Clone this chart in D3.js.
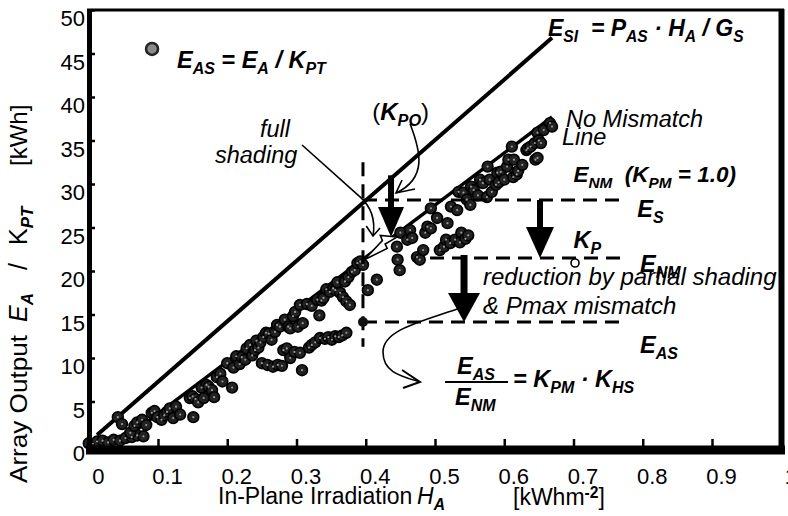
<!DOCTYPE html>
<html><head><meta charset="utf-8">
<script src="https://cdn.jsdelivr.net/npm/d3@7"></script>
<style>
html,body{margin:0;padding:0;background:#fff;}
svg{display:block;font-family:"Liberation Sans",Arial,Helvetica,sans-serif;}
text{white-space:pre;fill:#000;}
</style></head>
<body>
<svg id="chart" width="788" height="516"></svg>
<script>
// ---------- data ----------
const xTickValues = [0,0.1,0.2,0.3,0.4,0.5,0.6,0.7,0.8,0.9,1];
const xTickLabels = ["0","0.1","0.2","0.3","0.4","0.5","0.6","0.7","0.8","0.9","1"];
const yTickValues = [0,5,10,15,20,25,30,35,40,45,50];

// no-mismatch band (H_A, E_AS)
const mainH = [0.000,0.006,0.012,0.020,0.028,0.036,0.045,0.053,0.062,0.070,0.079,0.042,0.048,0.060,0.066,0.070,0.077,0.083,
 0.091,0.095,0.099,0.105,0.109,0.113,0.117,0.122,0.126,0.132,0.146,0.150,0.154,0.158,0.163,0.166,0.170,0.173,0.178,0.181,0.185,0.190,0.193,
 0.200,0.209,0.213,0.218,0.221,0.226,0.228,0.233,0.236,0.240,0.242,0.245,0.248,0.252,0.256,0.260,0.264,0.269,0.272,0.276,0.283,0.288,0.291,
 0.295,0.298,0.302,0.305,0.309,0.315,0.322,0.330,0.333,0.336,0.339,0.343,0.348,0.353,0.356,0.359,0.363,0.367,0.370,0.372,0.375,0.377,0.380,
 0.384,0.388,0.392,0.396,0.403,0.416,
 0.445,0.450,0.460,0.464,0.467,0.486,0.489,0.494,0.494,0.503,0.518,0.523,0.532,0.534,0.541,0.546,0.551,0.552,0.556,0.562,0.565,0.569,0.575,
 0.576,0.579,0.582,0.588,0.590,0.592,0.595,0.600,0.604,0.606,0.611,0.613,0.614,0.618,0.620,0.626,0.632,0.634,0.638,0.644,0.645,0.648,0.648,
 0.650,0.653,0.657,0.666,0.669];
const mainE = [0.2,0.1,0.4,0.5,0.3,0.6,0.5,0.8,0.9,1.1,1.0,3.2,2.4,1.4,2.2,2.6,2.9,2.3,
 3.7,3.9,3.2,2.9,3.4,3.8,4.2,3.1,4.4,3.5,5.4,5.6,5.3,4.9,6.6,5.4,6.9,6.7,6.3,5.5,7.8,8.2,7.3,
 9.4,8.9,10.2,9.3,10.1,9.8,11.1,11.5,10.3,10.9,12.0,11.2,11.8,12.4,12.9,12.8,12.1,13.0,13.8,13.6,14.4,13.6,13.4,
 14.8,15.3,13.6,16.1,14.0,16.2,16.0,16.7,14.9,16.6,16.9,17.9,17.6,18.0,17.8,18.7,17.5,17.0,18.8,16.5,19.3,16.1,19.9,
 20.1,20.9,21.1,20.7,17.8,19.0,
 22.8,24.4,23.6,24.7,23.8,24.4,25.1,24.9,27.2,26.1,25.5,27.4,27.0,29.1,29.0,28.2,27.6,29.7,29.3,28.7,30.5,30.1,28.5,
 32.0,30.5,29.1,29.9,31.3,30.2,31.4,30.5,32.0,32.8,34.3,30.8,32.8,31.1,31.5,32.2,33.9,34.1,34.3,34.7,32.8,33.0,35.9,
 35.0,34.7,36.2,37.0,36.6];

// partially shaded days
const shadeH = [0.151,0.207,0.250,0.258,0.266,0.273,0.279,0.281,0.286,0.291,0.297,0.305,0.308,0.318,0.322,0.327,0.334,0.341,0.346,0.351,
 0.356,0.361,0.366,0.372,0.446,0.449,0.474,0.478,0.483,0.507,0.513,0.516,0.522,0.529,0.536,0.538,0.544,0.548];
const shadeE = [3.2,6.6,9.4,9.2,9.0,9.2,9.1,10.9,11.1,10.0,10.7,10.6,8.6,11.2,11.5,11.8,12.3,12.2,12.4,12.1,
 12.5,12.4,12.6,12.9,21.3,20.1,21.6,21.3,22.4,22.4,22.8,23.6,23.2,23.6,23.3,24.4,23.7,24.1];

// reference lines
const esiLineH = [0.012,0.669];
const esiLineE = [1.15,46.8];
const nmLineH = [0.060,0.669];
const nmLineE = [1.2,37.7];

// reference levels
const levelES = 28.16, levelENM = 21.49, levelEAS = 14.14, hShade = 0.396;

// ---------- setup ----------
const svg = d3.select("#chart");
const x = d3.scaleLinear().domain([0,1]).range([88.75,781.25]);
const y = d3.scaleLinear().domain([0,50]).range([445,10]);

function rich(sel, X, Y, parts, o){
  const t = sel.append("text").attr("x",X).attr("y",Y)
    .attr("font-size",o.size).attr("font-weight",o.bold?"bold":"normal")
    .attr("font-style",o.italic?"italic":"normal");
  if(o.anchor) t.attr("text-anchor",o.anchor);
  let shift = 0;
  parts.forEach(p=>{
    const kind = p[1]||"n";
    const target = kind==="sub"? o.size*0.25 : kind==="sup"? -o.size*0.3 : 0;
    const ts = t.append("tspan").text(p[0]).attr("dy", target-shift);
    if(kind!=="n") ts.attr("font-size", o.size*0.68);
    if(p[2]) ts.attr("font-weight", p[2]);
    if(p[3]) ts.attr("font-style", p[3]);
    shift = target;
  });
  return t;
}

// ---------- reference lines ----------
const line = d3.line().x(d=>x(d[0])).y(d=>y(d[1]));
svg.append("path").attr("d", line(esiLineH.map((h,i)=>[h,esiLineE[i]])))
  .attr("stroke","#000").attr("stroke-width",4).attr("fill","none");
svg.append("path").attr("d", line(nmLineH.map((h,i)=>[h,nmLineE[i]])))
  .attr("stroke","#000").attr("stroke-width",3.5).attr("fill","none");

// ---------- points ----------
const pts = mainH.map((h,i)=>[h,mainE[i]]).concat(shadeH.map((h,i)=>[h,shadeE[i]]));
const dots = svg.append("g");
dots.selectAll("circle.d").data(pts).join("circle").attr("class","d")
  .attr("cx",d=>x(d[0])).attr("cy",d=>y(d[1])).attr("r",5.4)
  .attr("fill","#222").attr("stroke","#000").attr("stroke-width",1.6);
dots.selectAll("circle.c").data(pts).join("circle").attr("class","c")
  .attr("cx",d=>x(d[0])).attr("cy",d=>y(d[1])).attr("r",1.1).attr("fill","#999");

// ---------- dashed levels ----------
const dash = svg.append("g").attr("stroke","#000").attr("stroke-width",3).attr("stroke-dasharray","14,8").attr("fill","none");
dash.append("line").attr("x1",x(hShade)).attr("x2",x(hShade)).attr("y1",y(32.5)).attr("y2",y(11.3));
dash.append("line").attr("x1",x(hShade)).attr("x2",x(0.7715)).attr("y1",y(levelES)).attr("y2",y(levelES));
dash.append("line").attr("x1",x(0.4928)).attr("x2",x(0.7715)).attr("y1",y(levelENM)).attr("y2",y(levelENM));
dash.append("line").attr("x1",x(hShade)).attr("x2",x(0.7715)).attr("y1",y(levelEAS)).attr("y2",y(levelEAS));
svg.append("circle").attr("cx",x(hShade)).attr("cy",y(levelEAS)).attr("r",5).attr("fill","#111");
svg.append("circle").attr("cx",x(0.7022)).attr("cy",y(20.92)).attr("r",4).attr("fill","#fff").attr("stroke","#000").attr("stroke-width",1.6);

// ---------- thick arrows ----------
function bigArrow(hv, eTop, eBase, eTip, half, sw){
  const cx = x(hv);
  svg.append("line").attr("x1",cx).attr("x2",cx).attr("y1",y(eTop)).attr("y2",y(eBase)+2)
    .attr("stroke","#000").attr("stroke-width",sw);
  svg.append("path").attr("d",`M${cx-half},${y(eBase)}L${cx+half},${y(eBase)}L${cx},${y(eTip)}Z`).attr("fill","#000");
}
bigArrow(0.4365, 31.0, 27.36, 23.91, 13, 6);
bigArrow(0.6516, levelES, 25.06, levelENM, 14, 6);
bigArrow(0.5419, 21.84, 17.47, levelEAS, 16, 7);

// ---------- thin pointer curves ----------
const thin = svg.append("g").attr("stroke","#000").attr("stroke-width",1.6).attr("fill","none");
const P = (h,e)=>`${x(h)},${y(e)}`;
// (K_PO)
thin.append("path").attr("d",`M${P(0.4641,36.9)}C${P(0.4786,33.9)} ${P(0.4901,30.7)} ${P(0.4437,28.97)}`);
thin.append("path").attr("d",`M${P(0.4524,30.46)}L${P(0.4437,28.97)}L${P(0.4711,29.43)}`);
// full shading
thin.append("path").attr("d",`M${P(0.308,34.48)}L${P(0.3917,28.51)}Q${P(0.4162,26.78)} ${P(0.4105,24.02)}`);
thin.append("path").attr("d",`M${P(0.4007,25.17)}L${P(0.4105,24.02)}L${P(0.4207,24.94)}`);
// hollow pointer into shading area
thin.append("path").attr("d",`M${P(0.445,23.9)}L${P(0.428,23.1)}L${P(0.431,22.6)}L${P(0.398,21.3)}L${P(0.424,23.5)}L${P(0.421,24.1)}Z`).attr("fill","#fff");
// to formula
thin.append("path").attr("d",`M${P(0.5365,15.75)}C${P(0.4783,14.14)} ${P(0.4249,13.22)} ${P(0.4249,10.69)}C${P(0.4249,8.39)} ${P(0.4495,7.93)} ${P(0.4783,7.24)}`);
thin.append("path").attr("d",`M${P(0.4524,8.62)}L${P(0.4783,7.24)}L${P(0.4538,6.55)}`).attr("stroke-width",2);

// ---------- annotations ----------
const ann = svg.append("g");
const BI = {size:23.5,bold:true,italic:true};
const IT = {size:23.5,italic:true};
// legend
ann.append("circle").attr("cx",x(0.0914)).attr("cy",y(45.52)).attr("r",6).attr("fill","#8a8a8a").attr("stroke","#222").attr("stroke-width",2.5);
rich(ann, x(0.1274), y(43.33), [["E"],["AS","sub"],[" = E"],["A","sub"],[" / K"],["PT","sub"]], BI);
rich(ann, x(0.6632), y(47.0), [["E"],["SI","sub"],["  = P"],["AS","sub"],[" · H"],["A","sub"],[" / G"],["S","sub"]], {size:23,bold:true,italic:true});
rich(ann, x(0.6892), y(36.55), [["No Mismatch"]], IT);
rich(ann, x(0.6834), y(34.48), [["Line"]], IT);
rich(ann, x(0.70), y(30.23), [["E"],["NM","sub"],["  (K"],["PM","sub"],[" = 1.0)"]], {size:22.5,bold:true,italic:true});
rich(ann, x(0.792), y(26.2), [["E"],["S","sub"]], BI);
rich(ann, x(0.70), y(22.64), [["K"],["P","sub"]], BI);
rich(ann, x(0.796), y(19.89), [["E"],["NM","sub"]], BI);
rich(ann, x(0.5693), y(18.39), [["reduction by partial shading"]], {size:24,italic:true});
rich(ann, x(0.5693), y(15.06), [["& Pmax mismatch"]], {size:24,italic:true});
rich(ann, x(0.796), y(10.57), [["E"],["AS","sub"]], BI);
rich(ann, x(0.5318), y(8.16), [["E"],["AS","sub"]], BI);
ann.append("line").attr("x1",x(0.5145)).attr("x2",x(0.6055)).attr("y1",y(7.24)).attr("y2",y(7.24)).attr("stroke","#000").attr("stroke-width",2);
rich(ann, x(0.5289), y(4.6), [["E"],["NM","sub"]], BI);
rich(ann, x(0.6127), y(6.67), [["= K"],["PM","sub"],[" · K"],["HS","sub"]], BI);
rich(ann, x(0.2473), y(35.4), [["full"]], IT);
rich(ann, x(0.1823), y(32.41), [["shading"]], IT);
rich(ann, x(0.4093), y(37.36), [["(","n","normal","normal"],["K","n","bold"],["PO","sub","bold"],[")","n","normal","normal"]], {size:24,italic:true});

// ---------- axes ----------
const xAxis = d3.axisBottom(x).tickValues(xTickValues).tickFormat((d,i)=>xTickLabels[i]).tickSizeInner(-11).tickSizeOuter(0).tickPadding(18);
const gx = svg.append("g").attr("transform","translate(0,450)").call(xAxis);
gx.select(".domain").remove();
gx.selectAll(".tick line").attr("stroke","#000").attr("stroke-width",2.5);
gx.selectAll(".tick text").attr("font-size",22).attr("dx",9).attr("fill","#000").attr("font-family","Liberation Sans, Arial, sans-serif");

const yAxis = d3.axisLeft(y).tickValues(yTickValues).tickSizeInner(-6).tickSizeOuter(0).tickPadding(4);
const gy = svg.append("g").attr("transform","translate(89,0)").call(yAxis);
gy.select(".domain").remove();
gy.selectAll(".tick line").attr("stroke","#000").attr("stroke-width",2.5);
gy.selectAll(".tick text").attr("font-size",22).attr("dy","0.72em").attr("fill","#000").attr("font-family","Liberation Sans, Arial, sans-serif");

// frame
const fr = svg.append("g").attr("stroke","#000");
fr.append("line").attr("x1",86).attr("x2",785).attr("y1",450).attr("y2",450).attr("stroke-width",9);
fr.append("line").attr("x1",89.5).attr("x2",89.5).attr("y1",9).attr("y2",452).attr("stroke-width",5);
fr.append("line").attr("x1",781.5).attr("x2",781.5).attr("y1",9).attr("y2",452).attr("stroke-width",6);
fr.append("line").attr("x1",87).attr("x2",784).attr("y1",10).attr("y2",10).attr("stroke-width",3);

// axis titles
rich(svg, 218, 504, [["In-Plane Irradiation"]], {size:23});
rich(svg, 417, 504, [["H","n","normal","italic"],["A","sub","bold","italic"]], {size:23});
rich(svg, 513, 505, [["[kWhm"],["-2","sup","bold"],["]"]], {size:23});

const yt = svg.append("g").attr("transform","translate(27,0) rotate(-90)");
rich(yt, -483, 0, [["Array Output"]], {size:24}).attr("textLength",148).attr("lengthAdjust","spacingAndGlyphs");
rich(yt, -322, 0, [["E","n","normal","italic"],["A","sub","bold","italic"]], {size:25});
rich(yt, -270, 0, [["/"]], {size:25});
rich(yt, -245, 0, [["K"],["PT","sub","bold","italic"]], {size:25});
rich(yt, -166, 0, [["[kWh]"]], {size:24});
</script>
</body></html>
